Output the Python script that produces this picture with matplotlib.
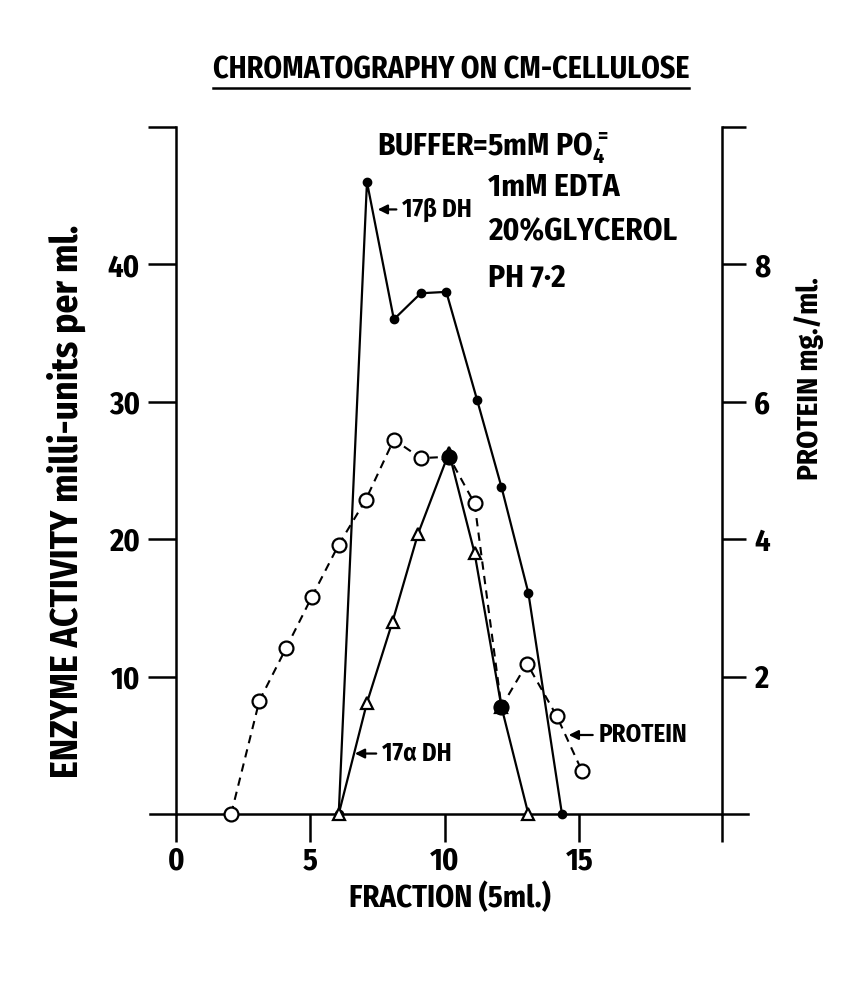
import numpy as np
import matplotlib
matplotlib.use('Agg')
import matplotlib.pyplot as plt
from matplotlib import font_manager
from matplotlib.ft2font import FT2Font
from matplotlib.lines import Line2D


def pick_family():
    """Narrow bold face with Greek if one is installed, else Roboto."""
    best = []
    for f in font_manager.fontManager.ttflist:
        if not ('Narrow' in f.name or 'Condensed' in f.name):
            continue
        w = f.weight if isinstance(f.weight, int) else font_manager.weight_dict.get(f.weight, 400)
        if w < 600:
            continue
        try:
            cmap = FT2Font(f.fname).get_charmap()
        except Exception:
            continue
        greek = ord('β') in cmap and ord('α') in cmap
        best.append((not greek, abs(w - 700), f.name))
    if best:
        return sorted(best)[0][2]
    names = {f.name for f in font_manager.fontManager.ttflist}
    return 'Roboto' if 'Roboto' in names else 'DejaVu Sans'


family = pick_family()
plt.rcParams['font.family'] = [family, 'DejaVu Sans']
plt.rcParams['font.weight'] = 'bold'
plt.rcParams['mathtext.fontset'] = 'custom'
plt.rcParams['mathtext.rm'] = family + ':bold'

# 17-beta DH activity (milli-units per ml), filled dots
beta_x = [6.05, 7.1, 8.1, 9.1, 10.05, 11.2, 12.1, 13.1, 14.35]
beta_y = [0, 46.0, 36.0, 37.9, 38.0, 30.1, 23.8, 16.1, 0]

# 17-alpha DH activity (milli-units per ml), open triangles
alpha_x = [6.05, 7.1, 8.05, 9.0, 10.15, 11.1, 12.1, 13.1]
alpha_y = [0, 8.1, 14.0, 20.4, 26.3, 19.0, 7.8, 0]

# protein (mg/ml), open circles, dashed
prot_x = [2.05, 3.1, 4.1, 5.05, 6.05, 7.05, 8.1, 9.1, 10.15, 11.1, 12.1, 13.05, 14.15, 15.1]
prot_y = [0, 1.65, 2.42, 3.16, 3.92, 4.57, 5.45, 5.18, 5.2, 4.52, 1.56, 2.19, 1.43, 0.62]
prot_filled = [10.15, 12.1]

x_ticks = [0, 5, 10, 15]
left_ticks = [10, 20, 30, 40, 50]
right_ticks = [2, 4, 6, 8, 10]

fig = plt.figure(figsize=(8.48, 9.97), dpi=100)
ax = fig.add_axes([176 / 848, 1 - 814 / 997, 546 / 848, 687 / 997])
ax2 = ax.twinx()
renderer = fig.canvas.get_renderer()


def size_for(s, size_px, vertical=False, cap=None, base=20):
    """Font size at which text s is size_px pixels long."""
    probe = fig.text(0, 0, s, fontsize=base, rotation=90 if vertical else 0)
    bb = probe.get_window_extent(renderer)
    probe.remove()
    fs = base * size_px / (bb.height if vertical else bb.width)
    return min(fs, cap) if cap else fs


tick_fs = 22

ax.set_xlim(0, 20.3)
ax.set_ylim(0, 50)
ax2.set_ylim(0, 10)

for a in (ax, ax2):
    for s in ('top', 'bottom'):
        a.spines[s].set_visible(False)
ax.spines['right'].set_visible(False)
ax2.spines['left'].set_visible(False)
ax.spines['left'].set_linewidth(1.8)
ax2.spines['right'].set_linewidth(1.8)

# baseline running past both axes
ax.axhline(0, xmin=-0.048, xmax=1.048, color='black', lw=1.8, clip_on=False, zorder=1)

ax.set_xticks(x_ticks + [20.3])
ax.set_xticklabels([str(t) for t in x_ticks] + [''])
ax.set_yticks(left_ticks)
ax.set_yticklabels([str(t) for t in left_ticks[:-1]] + [''])
ax2.set_yticks(right_ticks)
ax2.set_yticklabels([str(t) for t in right_ticks[:-1]] + [''])

ax.tick_params(axis='x', direction='out', length=20, width=1.8, pad=3, labelsize=tick_fs)
ax.tick_params(axis='y', direction='out', length=20, width=1.8, pad=6, labelsize=tick_fs)
ax2.tick_params(axis='y', direction='out', length=17, width=1.8, pad=6, labelsize=tick_fs)

ax.plot(beta_x, beta_y, '-', color='black', lw=1.6, marker='o', ms=6, mfc='black', clip_on=False, zorder=3)
ax.plot(alpha_x, alpha_y, '-', color='black', lw=1.6, marker='^', ms=8, mfc='white', mew=1.6,
        clip_on=False, zorder=4)
ax2.plot(prot_x, prot_y, color='black', lw=1.5, ls=(0, (4, 3)), marker='o', ms=10, mfc='white', mew=1.6,
         clip_on=False, zorder=5)
filled_y = [prot_y[prot_x.index(v)] for v in prot_filled]
ax2.plot(prot_filled, filled_y, 'o', color='black', ms=10, clip_on=False, zorder=6)

arrow = dict(arrowstyle='-|>', color='black', lw=1.6, mutation_scale=14, relpos=(0, 0.5), shrinkA=2, shrinkB=0)
ann_fs = size_for('17β DH', 70, cap=20)
ax.annotate('17β DH', xy=(7.5, 44.0), xytext=(8.4, 44.0), ha='left', va='center', fontsize=ann_fs,
            arrowprops=arrow)
ax.annotate('17α DH', xy=(6.65, 4.4), xytext=(7.65, 4.4), ha='left', va='center', fontsize=ann_fs,
            arrowprops=arrow)
ax.annotate('PROTEIN', xy=(14.6, 5.75), xytext=(15.7, 5.75), ha='left', va='center', fontsize=ann_fs,
            arrowprops=arrow)

buffer_fs = size_for('20%GLYCEROL', 189, cap=24)
ax.text(0.368, 0.969, r'BUFFER=5mM PO$_4^=$', transform=ax.transAxes, ha='left', va='center', fontsize=buffer_fs)
ax.text(0.571, 0.911, '1mM EDTA', transform=ax.transAxes, ha='left', va='center', fontsize=buffer_fs)
ax.text(0.571, 0.846, '20%GLYCEROL', transform=ax.transAxes, ha='left', va='center', fontsize=buffer_fs)
ax.text(0.571, 0.780, 'PH 7·2', transform=ax.transAxes, ha='left', va='center', fontsize=buffer_fs)

title_s = 'CHROMATOGRAPHY ON CM-CELLULOSE'
title = fig.text(0.532, 0.930, title_s, ha='center', va='center', fontsize=size_for(title_s, 477, cap=22))
yl_s = 'ENZYME ACTIVITY milli-units per ml.'
fig.text(0.078, 0.497, yl_s, rotation=90, ha='center', va='center',
         fontsize=size_for(yl_s, 555, vertical=True, cap=27))
yr_s = 'PROTEIN mg./ml.'
fig.text(0.955, 0.620, yr_s, rotation=90, ha='center', va='center',
         fontsize=size_for(yr_s, 203, vertical=True, cap=23))
xl_s = 'FRACTION (5ml.)'
fig.text(0.531, 0.099, xl_s, ha='center', va='center', fontsize=size_for(xl_s, 217, cap=22))

# underline the title
fig.canvas.draw()
bb = title.get_window_extent().transformed(fig.transFigure.inverted())
fig.add_artist(Line2D([bb.x0, bb.x1], [bb.y0 - 0.003, bb.y0 - 0.003], color='black', lw=1.8,
                      transform=fig.transFigure))

fig.savefig('out.png', dpi=100, facecolor='white')
